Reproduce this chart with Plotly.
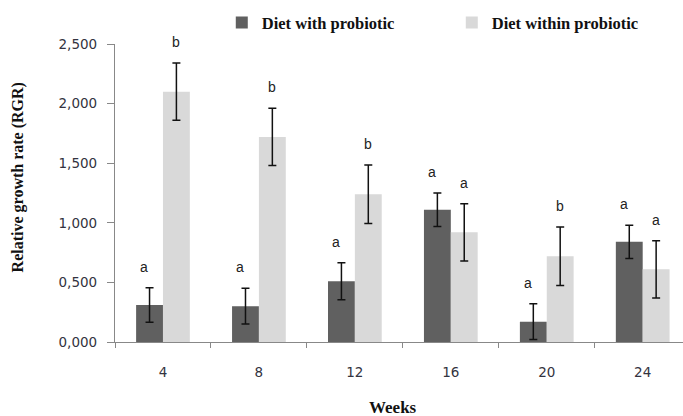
import plotly.graph_objects as go

weeks = ["4", "8", "12", "16", "20", "24"]
with_probiotic = [0.31, 0.30, 0.51, 1.11, 0.17, 0.84]
with_err = [0.145, 0.15, 0.155, 0.14, 0.15, 0.14]
without_probiotic = [2.10, 1.72, 1.24, 0.92, 0.72, 0.61]
without_err = [0.24, 0.24, 0.245, 0.24, 0.245, 0.24]
with_letters = ["a", "a", "a", "a", "a", "a"]
without_letters = ["b", "b", "b", "a", "b", "a"]
ytick_vals = [0, 0.5, 1.0, 1.5, 2.0, 2.5]
ytick_text = ["0,000", "0,500", "1,000", "1,500", "2,000", "2,500"]

fig = go.Figure()
fig.add_trace(go.Bar(
    x=weeks, y=with_probiotic, name="<b>Diet with probiotic</b>",
    marker=dict(color="#606060", line=dict(width=0)),
    error_y=dict(type="data", array=with_err, color="#111111", thickness=1.5, width=4),
))
fig.add_trace(go.Bar(
    x=weeks, y=without_probiotic, name="<b>Diet within probiotic</b>",
    marker=dict(color="#d9d9d9", line=dict(width=0)),
    error_y=dict(type="data", array=without_err, color="#111111", thickness=1.5, width=4),
))

letter_font = dict(family="Liberation Sans", size=14, color="#222222")
for i, w in enumerate(weeks):
    fig.add_annotation(x=i, y=with_probiotic[i] + with_err[i], text=with_letters[i],
                       xshift=-18.5, yshift=21, showarrow=False, font=letter_font)
    fig.add_annotation(x=i, y=without_probiotic[i] + without_err[i], text=without_letters[i],
                       xshift=13, yshift=21, showarrow=False, font=letter_font)

# axis titles
fig.add_annotation(xref="paper", yref="paper", x=-0.171, y=0.552, text="<b>Relative growth rate (RGR)</b>",
                   textangle=-90, showarrow=False, xanchor="center", yanchor="middle",
                   font=dict(family="Liberation Serif", size=16, color="#111111"))
fig.add_annotation(xref="paper", yref="paper", x=0.489, y=-0.221, text="<b>Weeks</b>",
                   showarrow=False, xanchor="center", yanchor="middle",
                   font=dict(family="Liberation Serif", size=17, color="#111111"))

fig.update_layout(
    width=683, height=416,
    margin=dict(l=115, r=0, t=44, b=74, autoexpand=False),
    paper_bgcolor="white", plot_bgcolor="white",
    barmode="group", bargap=0.44, bargroupgap=0,
    showlegend=True,
    legend=dict(orientation="h", x=0.188, xanchor="left", y=1.071, yanchor="middle",
                font=dict(family="Liberation Serif", size=16.5, color="#111111"),
                entrywidth=185, bgcolor="rgba(0,0,0,0)"),
    font=dict(family="DejaVu Sans", size=10, color="#333340"),
)
fig.update_xaxes(
    type="category", range=[-0.5, 5.42], automargin=False,
    showline=True, linecolor="#888888", linewidth=1.2,
    ticks="outside", tickson="boundaries", ticklen=5, tickcolor="#888888", tickwidth=1.2,
    ticklabelstandoff=18,
    tickfont=dict(family="DejaVu Sans", size=13.5, color="#333340"),
    showgrid=False,
)
fig.update_yaxes(
    range=[0, 2.5], tickvals=ytick_vals, ticktext=ytick_text, automargin=False,
    showline=True, linecolor="#888888", linewidth=1.2,
    ticks="outside", ticklen=7, tickcolor="#888888", tickwidth=1.2,
    ticklabelstandoff=7,
    tickfont=dict(family="DejaVu Sans", size=13.5, color="#333340"),
    showgrid=False, zeroline=False,
)
fig.write_html("out.html", config={"displayModeBar": False},
               post_script="document.body.style.margin='0';document.body.style.overflow='hidden';")
